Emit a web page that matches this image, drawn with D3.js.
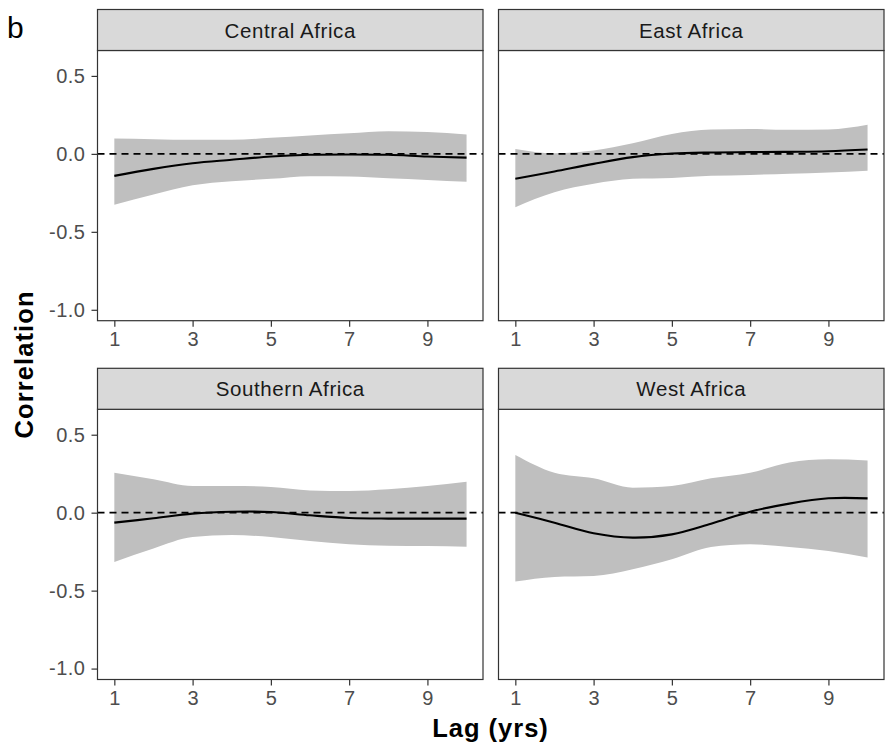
<!DOCTYPE html>
<html>
<head>
<meta charset="utf-8">
<script src="https://cdn.jsdelivr.net/npm/d3@7"></script>
<style>
  html, body { margin: 0; padding: 0; background: #ffffff; }
  svg { display: block; font-family: "Liberation Sans", Arial, sans-serif; }
</style>
</head>
<body>
<svg id="chart" width="885" height="748"></svg>
<script>
// Lag-correlation curves with confidence bands, one facet per region
const lags = [1, 2, 3, 4, 5, 6, 7, 8, 9, 10];
const regions = ["Central Africa", "East Africa", "Southern Africa", "West Africa"];

const centralFit   = [-0.141, -0.096, -0.060, -0.038, -0.017, -0.006, -0.004, -0.006, -0.017, -0.024];
const centralLower = [-0.327, -0.261, -0.201, -0.175, -0.160, -0.143, -0.145, -0.156, -0.167, -0.179];
const centralUpper = [0.098, 0.094, 0.090, 0.090, 0.103, 0.118, 0.132, 0.145, 0.141, 0.124];

const eastFit   = [-0.160, -0.113, -0.064, -0.021, 0.002, 0.009, 0.011, 0.013, 0.017, 0.028];
const eastLower = [-0.342, -0.246, -0.192, -0.160, -0.154, -0.141, -0.135, -0.128, -0.120, -0.109];
const eastUpper = [0.032, 0.004, 0.021, 0.068, 0.128, 0.156, 0.160, 0.154, 0.156, 0.186];

const southernFit   = [-0.064, -0.036, -0.006, 0.006, 0.004, -0.017, -0.034, -0.038, -0.038, -0.038];
const southernLower = [-0.316, -0.229, -0.156, -0.143, -0.156, -0.182, -0.203, -0.212, -0.214, -0.218];
const southernUpper = [0.256, 0.214, 0.171, 0.171, 0.165, 0.143, 0.139, 0.150, 0.171, 0.199];

const westFit   = [0.000, -0.064, -0.132, -0.160, -0.139, -0.071, 0.006, 0.058, 0.092, 0.092];
const westLower = [-0.442, -0.412, -0.406, -0.363, -0.299, -0.220, -0.203, -0.220, -0.246, -0.288];
const westUpper = [0.370, 0.256, 0.220, 0.160, 0.171, 0.220, 0.256, 0.321, 0.342, 0.335];

const xTicks = [1, 3, 5, 7, 9];
const yTicks = [-1.0, -0.5, 0.0, 0.5];

const seriesByRegion = [
  { fit: centralFit, lower: centralLower, upper: centralUpper },
  { fit: eastFit, lower: eastLower, upper: eastUpper },
  { fit: southernFit, lower: southernLower, upper: southernUpper },
  { fit: westFit, lower: westLower, upper: westUpper }
];

// facet layout
const colX = [97.5, 498.5];
const panelW = 385.5;
const stripTop = [9.5, 368.3];
const stripH = 41;
const plotH = 270.2;

const svg = d3.select("#chart");
const ink = "#333333";
const tickColor = "#4d4d4d";

regions.forEach((name, i) => {
  const col = i % 2, row = Math.floor(i / 2);
  const x0 = colX[col];
  const sTop = stripTop[row];
  const pTop = sTop + stripH;

  const x = d3.scaleLinear().domain([0.57, 10.42]).range([x0, x0 + panelW]);
  const y = d3.scaleLinear().domain([-1.07, 0.663]).range([pTop + plotH, pTop]);

  const s = seriesByRegion[i];
  const rows = lags.map((l, k) => ({ lag: l, fit: s.fit[k], lo: s.lower[k], hi: s.upper[k] }));

  const g = svg.append("g");

  // panel background
  g.append("rect").attr("x", x0).attr("y", pTop).attr("width", panelW).attr("height", plotH)
    .attr("fill", "#ffffff");

  // confidence band
  g.append("path").datum(rows)
    .attr("fill", "#bfbfbf")
    .attr("d", d3.area().curve(d3.curveMonotoneX)
      .x(d => x(d.lag)).y0(d => y(d.lo)).y1(d => y(d.hi)));

  // zero reference
  g.append("line")
    .attr("x1", x0).attr("x2", x0 + panelW)
    .attr("y1", y(0)).attr("y2", y(0))
    .attr("stroke", "#000000").attr("stroke-width", 1.6)
    .attr("stroke-dasharray", "7,5");

  // fitted curve
  g.append("path").datum(rows)
    .attr("fill", "none").attr("stroke", "#000000").attr("stroke-width", 2.1)
    .attr("d", d3.line().curve(d3.curveCatmullRom.alpha(0.5))
      .x(d => x(d.lag)).y(d => y(d.fit)));

  // panel border
  g.append("rect").attr("x", x0).attr("y", pTop).attr("width", panelW).attr("height", plotH)
    .attr("fill", "none").attr("stroke", ink).attr("stroke-width", 1.2);

  // strip
  g.append("rect").attr("x", x0).attr("y", sTop).attr("width", panelW).attr("height", stripH)
    .attr("fill", "#d9d9d9").attr("stroke", ink).attr("stroke-width", 1.2);
  g.append("text")
    .attr("x", x0 + panelW / 2).attr("y", sTop + stripH / 2)
    .attr("text-anchor", "middle").attr("dominant-baseline", "central")
    .attr("font-size", 20.5).attr("letter-spacing", 0.6).attr("fill", "#1a1a1a")
    .text(name);

  // x axis
  const xAxis = g.append("g").attr("transform", `translate(0,${pTop + plotH})`)
    .call(d3.axisBottom(x).tickValues(xTicks).tickSize(6).tickPadding(5).tickFormat(d3.format("d")));
  xAxis.select(".domain").remove();
  xAxis.selectAll(".tick line").attr("stroke", ink).attr("stroke-width", 1.2);
  xAxis.selectAll(".tick text").attr("fill", tickColor).attr("font-size", 20)
    .attr("font-family", "Liberation Sans, Arial, sans-serif");

  // y axis on the left column only
  if (col === 0) {
    const yAxis = g.append("g").attr("transform", `translate(${x0},0)`)
      .call(d3.axisLeft(y).tickValues(yTicks).tickSize(6).tickPadding(6).tickFormat(d => d.toFixed(1)));
    yAxis.select(".domain").remove();
    yAxis.selectAll(".tick line").attr("stroke", ink).attr("stroke-width", 1.2);
    yAxis.selectAll(".tick text").attr("fill", tickColor).attr("font-size", 20)
      .attr("letter-spacing", 0.5)
      .attr("font-family", "Liberation Sans, Arial, sans-serif");
  }
});

// axis titles and panel tag
svg.append("text")
  .attr("x", 490.5).attr("y", 737)
  .attr("text-anchor", "middle").attr("font-weight", "bold").attr("font-size", 25.5)
  .attr("letter-spacing", 1).attr("fill", "#000000").text("Lag (yrs)");

svg.append("text")
  .attr("transform", "translate(33,364.5) rotate(-90)")
  .attr("text-anchor", "middle").attr("font-weight", "bold").attr("font-size", 25.5)
  .attr("letter-spacing", 1.1).attr("fill", "#000000").text("Correlation");

svg.append("text")
  .attr("x", 7).attr("y", 38)
  .attr("font-size", 30).attr("fill", "#000000").text("b");
</script>
</body>
</html>
